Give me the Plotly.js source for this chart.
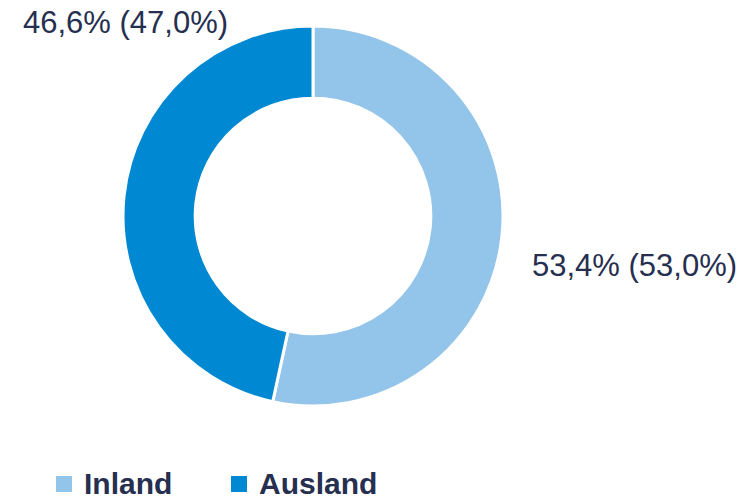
<!DOCTYPE html>
<html><head><meta charset="utf-8">
<script src="https://cdn.plot.ly/plotly-3.0.1.min.js"></script>
<style>body{margin:0;background:#fff}#c{width:749px;height:501px}</style>
</head><body><div id="c"></div>
<script>
const categories = ["Inland", "Ausland"];
const values = [53.4, 46.6];
const prevValues = [53.0, 47.0];
const colors = ["#93C5EB", "#0088D2"];
const textColor = "#262F4F";

const fmt = v => v.toFixed(1).replace(".", ",") + "%";
const labelText = values.map((v, i) => fmt(v) + " (" + fmt(prevValues[i]) + ")");

const W = 749, H = 501;
const cx = 313, cy = 216, R = 190;

const trace = {
  type: "pie",
  labels: categories,
  values: values,
  hole: 0.62,
  sort: false,
  direction: "clockwise",
  rotation: 0,
  textinfo: "none",
  hoverinfo: "label+percent",
  showlegend: false,
  marker: {colors: colors, line: {color: "#ffffff", width: 3}},
  domain: {x: [(cx - R) / W, (cx + R) / W], y: [(H - cy - R) / H, (H - cy + R) / H]}
};

// custom legend (square swatches + bold labels)
const legendX = [56, 231];   // swatch left edges (px)
const legendSq = 16;
const legendTop = 476;
const shapes = categories.map((c, i) => ({
  type: "rect", xref: "paper", yref: "paper",
  x0: legendX[i] / W, x1: (legendX[i] + legendSq) / W,
  y0: 1 - (legendTop + legendSq) / H, y1: 1 - legendTop / H,
  fillcolor: colors[i], line: {width: 0}
}));
const legendAnn = categories.map((c, i) => ({
  text: "<b>" + c + "</b>", xref: "paper", yref: "paper",
  x: (legendX[i] + 27) / W, y: 1 - (legendTop + legendSq / 2 - 1) / H,
  xanchor: "left", yanchor: "middle", showarrow: false,
  font: {size: 30, color: textColor}, borderpad: 0
}));

const layout = {
  width: W, height: H,
  margin: {l: 0, r: 0, t: 0, b: 0},
  paper_bgcolor: "#ffffff",
  font: {family: "Liberation Sans, Arial, sans-serif", color: textColor},
  showlegend: false,
  shapes: shapes,
  annotations: [
    {text: labelText[0], xref: "paper", yref: "paper", x: 530 / W, y: 1 - 265 / H,
     xanchor: "left", yanchor: "middle", showarrow: false, font: {size: 31, color: textColor}},
    {text: labelText[1], xref: "paper", yref: "paper", x: 21 / W, y: 1 - 22 / H,
     xanchor: "left", yanchor: "middle", showarrow: false, font: {size: 31, color: textColor}}
  ].concat(legendAnn)
};

Plotly.newPlot("c", [trace], layout, {displayModeBar: false, staticPlot: true});
</script></body></html>
